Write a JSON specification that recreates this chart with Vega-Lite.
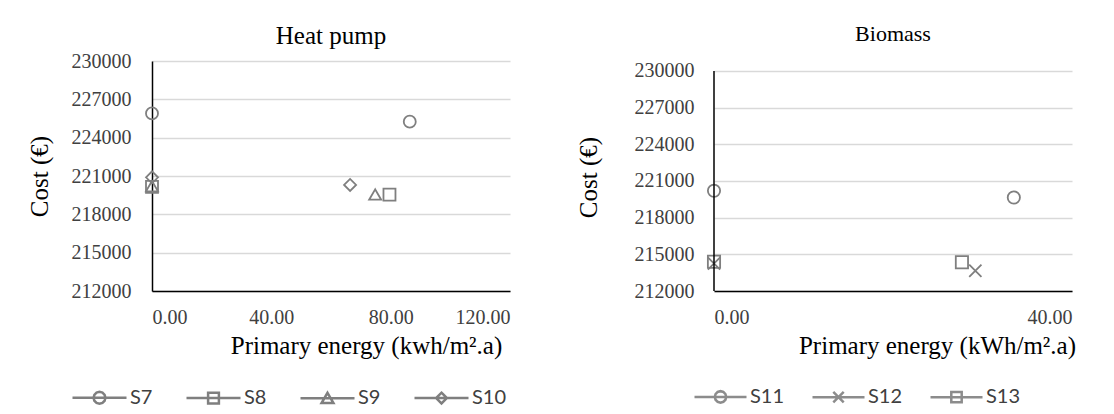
{
"$schema":"https://vega.github.io/schema/vega-lite/v6.json",
"padding":{"left":26,"top":22,"right":5,"bottom":55},
"background":"white",
"spacing":66,
"resolve":{"scale":{"shape":"independent"},"legend":{"shape":"independent"}},
"config":{
  "font":"Liberation Serif",
  "view":{"stroke":null},
  "title":{"font":"Liberation Serif","color":"#000000","fontWeight":"normal","anchor":"middle","baseline":"alphabetic"},
  "axis":{"labelFont":"Liberation Serif","labelFontSize":20,"labelColor":"#404040","labelOverlap":false,"titleFont":"Liberation Serif","titleFontSize":25,"titleFontWeight":"normal","titleColor":"#000000","ticks":false,"tickSize":0,"domainColor":"#000000","domainWidth":1.5,"gridColor":"#d9d9d9","gridWidth":1.5},
  "legend":{"labelFont":"Lato","labelFontSize":20,"labelColor":"#404040"}
},
"hconcat":[
 {
  "title":{"text":"Heat pump","fontSize":25,"offset":2},
  "width":358,"height":230,
  "data":{"values":[
    {"series":"S7","energy":0,"cost":225900},
    {"series":"S7","energy":86.4,"cost":225250},
    {"series":"S8","energy":0,"cost":220150},
    {"series":"S8","energy":79.6,"cost":219550},
    {"series":"S9","energy":0,"cost":220200},
    {"series":"S9","energy":74.8,"cost":219550},
    {"series":"S10","energy":0,"cost":220900},
    {"series":"S10","energy":66.4,"cost":220300}
  ]},
  "encoding":{
    "x":{"field":"energy","type":"quantitative","scale":{"domain":[0,120],"nice":false,"zero":false},
         "axis":{"values":[0,40,80,120],"format":".2f","grid":false,"labelPadding":16,"title":"Primary energy (kwh/m².a)","titleX":214,"titleY":62,"titleBaseline":"alphabetic","titleAlign":"center"}},
    "y":{"field":"cost","type":"quantitative","scale":{"domain":[212000,230000],"nice":false,"zero":false},
         "axis":{"values":[212000,215000,218000,221000,224000,227000,230000],"format":"d","labelPadding":21,"title":"Cost (€)","titleX":-113,"titleY":115,"titleBaseline":"middle","titleAngle":-90,"titleAlign":"center"}}
  },
  "layer":[
   {
    "mark":{"type":"point","filled":false,"opacity":1,"strokeWidth":1.8,"color":"#7f7f7f","size":144},
    "encoding":{
      "shape":{"field":"series","type":"nominal","scale":{"domain":["S7","S8","S9","S10"],"range":["circle","square","triangle-up","diamond"]},"legend":null}
    }
   },
   {
    "mark":{"type":"point","filled":false,"opacity":0,"size":30,"color":"#7f7f7f"},
    "encoding":{
      "shape":{"field":"series","type":"nominal","scale":{"domain":["S7","S8","S9","S10"],"range":[
          "M-1,0H1M0.22,0L0.19,0.11L0.11,0.19L0,0.22L-0.11,0.19L-0.19,0.11L-0.22,0L-0.19,-0.11L-0.11,-0.19L0,-0.22L0.11,-0.19L0.19,-0.11Z",
          "M-1,0H1M-0.2,-0.2H0.2V0.2H-0.2Z",
          "M-1,0H1M0,-0.2L0.22,0.18H-0.22Z",
          "M-1,0H1M0,-0.2L0.2,0L0,0.2L-0.2,0Z"]},
        "legend":{"orient":"none","legendX":-81,"legendY":308,"direction":"horizontal","title":null,"columnPadding":28,"labelOffset":2,"symbolSize":2916,"symbolStrokeWidth":2.5,"symbolOpacity":1,"symbolStrokeColor":"#7f7f7f"}}
    }
   }
  ],
  "resolve":{"scale":{"shape":"independent"},"legend":{"shape":"independent"}}
 },
 {
  "title":{"text":"Biomass","fontSize":22,"offset":15},
  "width":358,"height":230,
  "data":{"values":[
    {"series":"S11","energy":0,"cost":220200},
    {"series":"S11","energy":33.5,"cost":219650},
    {"series":"S12","energy":0,"cost":214250},
    {"series":"S12","energy":29.2,"cost":213650},
    {"series":"S13","energy":0,"cost":214400},
    {"series":"S13","energy":27.7,"cost":214350}
  ]},
  "layer":[
   {
    "mark":{"type":"point","filled":false,"opacity":1,"strokeWidth":1.8,"color":"#7f7f7f","size":150},
    "encoding":{
      "x":{"field":"energy","type":"quantitative","scale":{"domain":[0,40],"nice":false,"zero":false},
           "axis":{"values":[0,40],"format":".2f","grid":false,"labelPadding":16,"title":"Primary energy (kWh/m².a)","titleX":223,"titleY":62,"titleBaseline":"alphabetic","titleAlign":"center"}},
      "y":{"field":"cost","type":"quantitative","scale":{"domain":[212000,230818],"nice":false,"zero":false},
           "axis":{"values":[212000,215000,218000,221000,224000,227000,230000],"format":"d","labelPadding":20,"domain":false,"title":"Cost (€)","titleX":-126,"titleY":116,"titleBaseline":"middle","titleAngle":-90,"titleAlign":"center"}},
      "shape":{"field":"series","type":"nominal","scale":{"domain":["S11","S12","S13"],"range":["circle","M-1,-1L1,1M-1,1L1,-1","square"]},"legend":null}
    }
   },
   {
    "mark":{"type":"point","filled":false,"opacity":0,"size":30,"color":"#8c8c8c"},
    "encoding":{
      "x":{"field":"energy","type":"quantitative",
           "axis":{"values":[0,40],"format":".2f","grid":false,"labelPadding":16,"title":"Primary energy (kWh/m².a)","titleX":223,"titleY":62,"titleBaseline":"alphabetic","titleAlign":"center"}},
      "y":{"field":"cost","type":"quantitative",
           "axis":{"values":[212000,215000,218000,221000,224000,227000,230000],"format":"d","labelPadding":20,"domain":false,"title":"Cost (€)","titleX":-126,"titleY":116,"titleBaseline":"middle","titleAngle":-90,"titleAlign":"center"}},
      "shape":{"field":"series","type":"nominal","scale":{"domain":["S11","S12","S13"],"range":[
          "M-1,0H1M0.22,0L0.19,0.11L0.11,0.19L0,0.22L-0.11,0.19L-0.19,0.11L-0.22,0L-0.19,-0.11L-0.11,-0.19L0,-0.22L0.11,-0.19L0.19,-0.11Z",
          "M-1,0H1M-0.2,-0.2L0.2,0.2M-0.2,0.2L0.2,-0.2",
          "M-1,0H1M-0.2,-0.2H0.2V0.2H-0.2Z"]},
        "legend":{"orient":"none","legendX":-21,"legendY":308,"direction":"horizontal","title":null,"columnPadding":22,"labelOffset":2,"symbolSize":2704,"symbolStrokeWidth":2.5,"symbolOpacity":1,"symbolStrokeColor":"#8c8c8c"}}
    }
   },
   {
    "data":{"values":[{}]},
    "mark":{"type":"rule","color":"#000000","strokeWidth":1.5},
    "encoding":{
      "x":{"datum":0,"type":"quantitative",
           "axis":{"values":[0,40],"format":".2f","grid":false,"labelPadding":16,"title":"Primary energy (kWh/m².a)","titleX":223,"titleY":62,"titleBaseline":"alphabetic","titleAlign":"center"}},
      "y":{"datum":212000,"type":"quantitative",
           "axis":{"values":[212000,215000,218000,221000,224000,227000,230000],"format":"d","labelPadding":20,"domain":false,"title":"Cost (€)","titleX":-126,"titleY":116,"titleBaseline":"middle","titleAngle":-90,"titleAlign":"center"}},
      "y2":{"datum":230000}}
   }
  ],
  "resolve":{"scale":{"shape":"independent"},"legend":{"shape":"independent"}}
 }
]
}
